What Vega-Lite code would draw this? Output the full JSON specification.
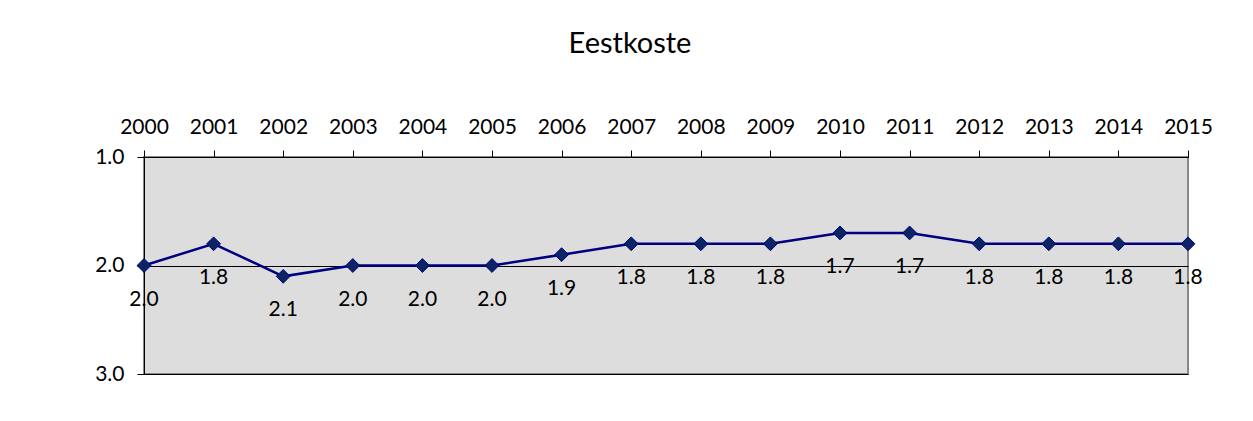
{
  "$schema": "https://vega.github.io/schema/vega-lite/v6.json",
  "width": 1044,
  "height": 217,
  "autosize": "none",
  "padding": {"left": 144, "top": 157, "right": 65, "bottom": 47},
  "background": "white",
  "title": {"text": "Eestkoste", "font": "Lato", "fontSize": 29, "fontWeight": "normal", "color": "black", "offset": 57, "dx": -36, "anchor": "middle"},
  "config": {
    "view": {"fill": "#DDDDDD", "stroke": "#888888", "strokeWidth": 2},
    "axis": {"labelFont": "Lato", "labelFontSize": 21, "labelColor": "black", "domainColor": "black", "tickColor": "black", "tickSize": 7, "labelPadding": 13, "titleFontSize": 0}
  },
  "data": {"values": [
    {"year": "2000", "value": 2.0},
    {"year": "2001", "value": 1.8},
    {"year": "2002", "value": 2.1},
    {"year": "2003", "value": 2.0},
    {"year": "2004", "value": 2.0},
    {"year": "2005", "value": 2.0},
    {"year": "2006", "value": 1.9},
    {"year": "2007", "value": 1.8},
    {"year": "2008", "value": 1.8},
    {"year": "2009", "value": 1.8},
    {"year": "2010", "value": 1.7},
    {"year": "2011", "value": 1.7},
    {"year": "2012", "value": 1.8},
    {"year": "2013", "value": 1.8},
    {"year": "2014", "value": 1.8},
    {"year": "2015", "value": 1.8}
  ]},
  "encoding": {
    "x": {"field": "year", "type": "ordinal", "scale": {"type": "point", "padding": 0},
      "axis": {"orient": "top", "labelAngle": 0, "title": null, "grid": false, "domainColor": "black"}},
    "y": {"field": "value", "type": "quantitative", "scale": {"domain": [1, 3], "reverse": true, "nice": false, "zero": false},
      "axis": {"values": [1, 2, 3], "format": ".1f", "title": null, "grid": true, "gridColor": "black", "gridOpacity": 1, "gridWidth": 1}}
  },
  "layer": [
    {"mark": {"type": "line", "color": "#000080", "strokeWidth": 2.5}},
    {"mark": {"type": "point", "shape": "diamond", "size": 190, "filled": true, "fill": "#0A2464", "stroke": "#000080", "strokeWidth": 1, "opacity": 1}},
    {"mark": {"type": "text", "font": "Lato", "fontSize": 21, "color": "black", "baseline": "middle", "dy": 34},
     "encoding": {"text": {"field": "value", "type": "quantitative", "format": ".1f"}}}
  ]
}
